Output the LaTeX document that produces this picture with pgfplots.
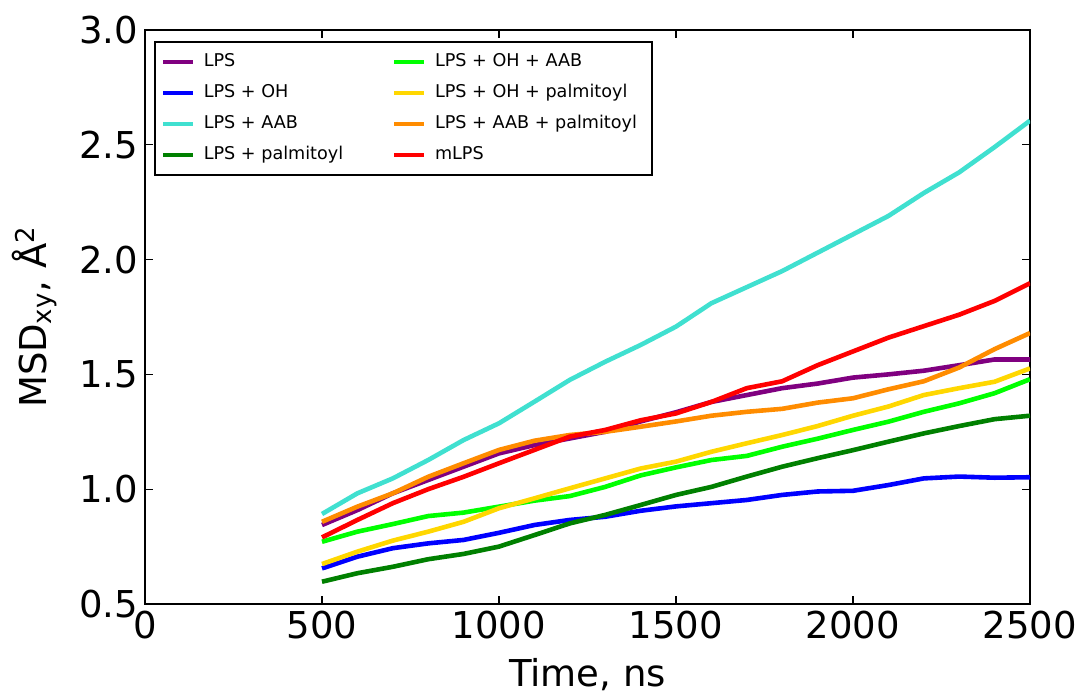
\documentclass[border=0pt]{standalone}
\usepackage{fontspec}
\setmainfont{DejaVu Sans}
\usepackage{pgfplots}
\usepackage{pgfplotstable}
\pgfplotsset{compat=1.18}
\definecolor{cPurple}{RGB}{128,0,128}
\definecolor{cBlue}{RGB}{0,0,255}
\definecolor{cTurq}{RGB}{64,224,208}
\definecolor{cGreen}{RGB}{0,128,0}
\definecolor{cLime}{RGB}{0,255,0}
\definecolor{cGold}{RGB}{255,215,0}
\definecolor{cOrange}{RGB}{255,140,0}
\definecolor{cRed}{RGB}{255,0,0}
\pgfplotstableread{
t    lps   oh    aab   pal   ohaab ohpal aabpal mlps
500  0.844 0.655 0.892 0.597 0.771 0.674 0.858 0.790
600  0.909 0.706 0.982 0.634 0.815 0.728 0.924 0.866
700  0.982 0.743 1.047 0.662 0.848 0.776 0.982 0.939
800  1.040 0.764 1.127 0.695 0.883 0.815 1.054 1.000
900  1.098 0.779 1.214 0.718 0.898 0.858 1.113 1.054
1000 1.156 0.810 1.287 0.750 0.924 0.917 1.171 1.113
1100 1.192 0.844 1.381 0.800 0.950 0.960 1.211 1.171
1200 1.221 0.866 1.476 0.851 0.970 1.004 1.236 1.229
1300 1.250 0.880 1.555 0.888 1.010 1.047 1.250 1.258
1400 1.295 0.906 1.628 0.931 1.060 1.090 1.272 1.300
1500 1.335 0.925 1.708 0.975 1.095 1.120 1.295 1.330
1600 1.380 0.939 1.810 1.010 1.127 1.163 1.320 1.380
1700 1.410 0.953 1.880 1.055 1.145 1.200 1.337 1.440
1800 1.440 0.975 1.950 1.098 1.185 1.236 1.350 1.470
1900 1.460 0.990 2.030 1.135 1.220 1.275 1.377 1.540
2000 1.486 0.993 2.110 1.170 1.258 1.320 1.396 1.600
2100 1.500 1.018 2.190 1.207 1.294 1.360 1.435 1.660
2200 1.516 1.047 2.290 1.243 1.337 1.410 1.470 1.710
2300 1.540 1.055 2.380 1.275 1.374 1.440 1.530 1.760
2400 1.565 1.050 2.490 1.305 1.418 1.468 1.610 1.820
2500 1.565 1.052 2.605 1.320 1.479 1.526 1.680 1.897
}\datatable
\begin{document}
\begin{tikzpicture}
\begin{axis}[
  scale only axis,
  width=442.5pt, height=287pt,
  xmin=0, xmax=2500, ymin=0.5, ymax=3.0,
  xtick={0,500,...,2500},
  ytick={0.5,1.0,...,3.0},
  yticklabel style={/pgf/number format/.cd,fixed,fixed zerofill,precision=1},
  xticklabel style={/pgf/number format/1000 sep={}},
  /pgf/number format/assume math mode=true,
  tick label style={font=\fontsize{18.5}{20}\selectfont},
  label style={font=\fontsize{18.5}{20}\selectfont},
  xlabel={Time, ns},
  ylabel={MSD\textsubscript{xy}, Å\textsuperscript{2}},
  xlabel style={yshift=-3pt},
  ylabel style={yshift=4pt},
  tick align=inside,
  major tick length=4pt,
  axis line style={line width=1pt},
  every tick/.style={black, line width=0.6pt},
  legend columns=4,
  transpose legend,
  legend cell align=left,
  legend style={at={(0.0102,0.981)}, anchor=north west, draw=black, line width=1pt,
    font=\fontsize{8.8}{10}\selectfont, inner xsep=3pt, inner ysep=4pt,
    row sep=3.2pt,
    /tikz/every even column/.append style={column sep=20pt},
    nodes={text height=6.5pt, text depth=1.8pt, inner xsep=4.5pt}},
  legend image code/.code={\draw[#1, line width=2.2pt] (0pt,0pt) -- (14.7pt,0pt);},
  every axis plot/.append style={line width=2.3pt, line join=round},
]
\addplot[cPurple] table[x=t,y=lps]{\datatable};
\addlegendentry{LPS}
\addplot[cBlue] table[x=t,y=oh]{\datatable};
\addlegendentry{LPS + OH}
\addplot[cTurq] table[x=t,y=aab]{\datatable};
\addlegendentry{LPS + AAB}
\addplot[cGreen] table[x=t,y=pal]{\datatable};
\addlegendentry{LPS + palmitoyl}
\addplot[cLime] table[x=t,y=ohaab]{\datatable};
\addlegendentry{LPS + OH + AAB}
\addplot[cGold] table[x=t,y=ohpal]{\datatable};
\addlegendentry{LPS + OH + palmitoyl}
\addplot[cOrange] table[x=t,y=aabpal]{\datatable};
\addlegendentry{LPS + AAB + palmitoyl}
\addplot[cRed] table[x=t,y=mlps]{\datatable};
\addlegendentry{mLPS}
\end{axis}
\pgfresetboundingbox
\path[use as bounding box] ([shift={(-72.5pt,-47pt)}]current axis.south west) rectangle ([shift={(25pt,15pt)}]current axis.north east);
\end{tikzpicture}
\end{document}
